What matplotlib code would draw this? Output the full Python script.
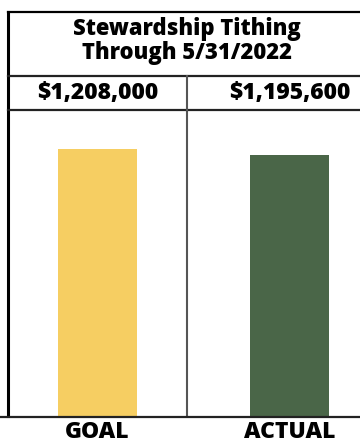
import matplotlib.pyplot as plt

# Data
categories = ["GOAL", "ACTUAL"]
values = [1208000, 1195600]
value_labels = ["$1,208,000", "$1,195,600"]
bar_colors = ["#F6CE62", "#4A6648"]
title_lines = ["Stewardship Tithing", "Through 5/31/2022"]

plt.rcParams['font.family'] = ['Open Sans', 'DejaVu Sans']

W, H = 360, 445
fig = plt.figure(figsize=(W / 100, H / 100), dpi=100)

def fx(px):
    return px / W

def fy(py):
    return 1 - py / H

# bar area (pixels): left 8, right 360, top 110, bottom 416
ax = fig.add_axes([fx(8), fy(416), fx(360) - fx(8), fy(110) - fy(416)])
ax.bar(range(len(values)), values, width=0.411, color=bar_colors)
ax.set_xlim(-0.466, 1.367)
ax.set_ylim(656200, 1288600)
ax.axis('off')

# divider between the two cells
ax.axvline(0.466, color="#555555", lw=1.5)

# table frame
lw = 1.6
fig.add_artist(plt.Line2D([fx(8), fx(8)], [fy(12), fy(416)], color="black", lw=2.2))
fig.add_artist(plt.Line2D([fx(8), 1], [fy(12), fy(12)], color="black", lw=lw))
fig.add_artist(plt.Line2D([fx(8), 1], [fy(76), fy(76)], color="#222222", lw=lw))
fig.add_artist(plt.Line2D([fx(8), 1], [fy(110), fy(110)], color="#222222", lw=lw))
fig.add_artist(plt.Line2D([fx(0), 1], [fy(416.5), fy(416.5)], color="#222222", lw=lw))
fig.add_artist(plt.Line2D([fx(187), fx(187)], [fy(76), fy(110)], color="#555555", lw=1.5))

# title
fig.text(fx(187), fy(29), title_lines[0], ha="center", va="center",
         fontsize=15.8, fontweight="heavy")
fig.text(fx(187), fy(53), title_lines[1], ha="center", va="center",
         fontsize=15.8, fontweight="heavy")

# value row and category labels
centers = [97.5, 289.5]
for i in range(len(values)):
    fig.text(fx(centers[i]), fy(93), value_labels[i], ha="center", va="center",
             fontsize=16.5, fontweight="heavy")
    fig.text(fx(centers[i]), fy(444.5), categories[i], ha="center", va="bottom",
             fontsize=16.5, fontweight="heavy")

fig.savefig("out.png", dpi=100)
